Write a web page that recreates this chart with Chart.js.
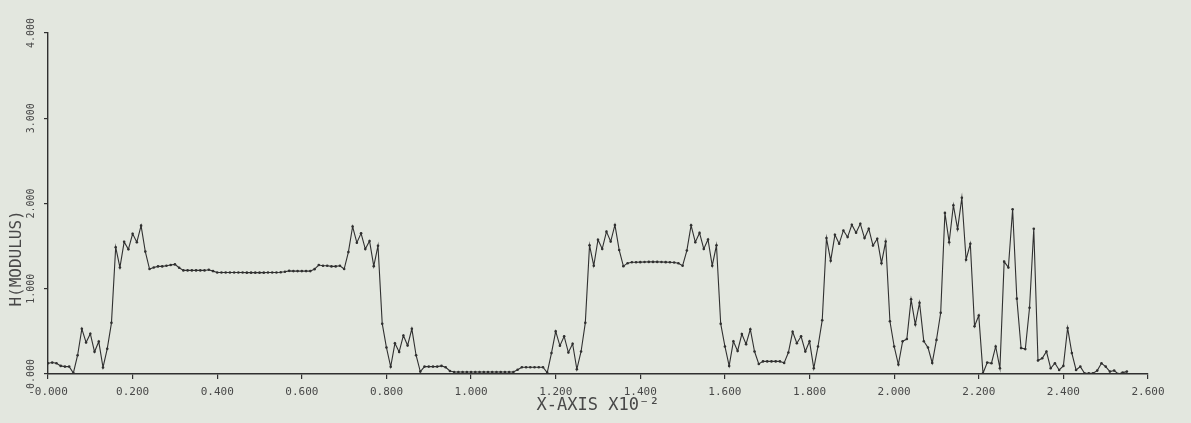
<!DOCTYPE html>
<html>
<head>
<meta charset="utf-8">
<script src="https://cdn.jsdelivr.net/npm/chart.js"></script>
<style>
  html, body { margin: 0; padding: 0; background: #e3e7df; }
  #caixa { width: 1191px; height: 423px; position: relative; }
</style>
</head>
<body>
<div id="caixa"><canvas id="grafico"></canvas></div>
<script>
const modulusA = [
  0.126, 0.134, 0.126, 0.095, 0.087, 0.087, 0.012, 0.220,
  0.530, 0.370, 0.473, 0.260, 0.380, 0.077, 0.295, 0.600,
  1.487, 1.250, 1.550, 1.463, 1.645, 1.546, 1.740, 1.436,
  1.231, 1.250, 1.262, 1.262, 1.270, 1.278, 1.286, 1.247,
  1.215, 1.215, 1.215, 1.215, 1.215, 1.215, 1.223, 1.207,
  1.191, 1.191, 1.191, 1.191, 1.191, 1.191, 1.191, 1.189,
  1.189, 1.189, 1.189, 1.189, 1.191, 1.191, 1.191, 1.193,
  1.200, 1.210, 1.207, 1.207, 1.207, 1.207, 1.207, 1.230
];
const modulusB = [
  1.278, 1.270, 1.270, 1.262, 1.262, 1.270, 1.231, 1.430,
  1.730, 1.540, 1.650, 1.465, 1.560, 1.265, 1.505, 0.590,
  0.310, 0.085, 0.360, 0.258, 0.452, 0.335, 0.530, 0.220,
  0.028, 0.087, 0.087, 0.087, 0.087, 0.095, 0.079, 0.035,
  0.024, 0.024, 0.024, 0.024, 0.024, 0.024, 0.024, 0.024,
  0.024, 0.024, 0.024, 0.024, 0.024, 0.024, 0.024, 0.050,
  0.079, 0.079, 0.079, 0.079, 0.079, 0.079, 0.016, 0.245,
  0.500, 0.331, 0.442, 0.252, 0.355, 0.055, 0.264, 0.600
];
const modulusC = [
  1.510, 1.270, 1.575, 1.467, 1.670, 1.554, 1.748, 1.455,
  1.265, 1.300, 1.310, 1.310, 1.312, 1.314, 1.315, 1.315,
  1.315, 1.314, 1.312, 1.310, 1.308, 1.300, 1.270, 1.448,
  1.744, 1.546, 1.655, 1.467, 1.578, 1.270, 1.510, 0.590,
  0.323, 0.095, 0.383, 0.270, 0.468, 0.350, 0.525, 0.264,
  0.118, 0.148, 0.148, 0.148, 0.148, 0.148, 0.130, 0.252,
  0.495, 0.360, 0.442, 0.264, 0.383, 0.067, 0.323, 0.631,
  1.594, 1.329, 1.633, 1.527, 1.684, 1.606, 1.751, 1.657
];
const modulusD = [
  1.763, 1.594, 1.704, 1.507, 1.586, 1.300, 1.554, 0.619,
  0.323, 0.110, 0.383, 0.410, 0.876, 0.580, 0.836, 0.385,
  0.310, 0.130, 0.400, 0.718, 1.890, 1.546, 1.980, 1.700,
  2.067, 1.341, 1.527, 0.560, 0.686, 0.008, 0.134, 0.126,
  0.323, 0.067, 1.318, 1.250, 1.933, 0.884, 0.304, 0.292,
  0.777, 1.704, 0.158, 0.185, 0.264, 0.067, 0.126, 0.047,
  0.095, 0.540, 0.245, 0.047, 0.087, 0.008, 0.008, 0.008,
  0.040, 0.126, 0.087, 0.028, 0.040, 0.000, 0.016, 0.028
];
const passoX = 0.01;

const xTickValues = [0, 0.2, 0.4, 0.6, 0.8, 1.0, 1.2, 1.4, 1.6, 1.8, 2.0, 2.2, 2.4, 2.6];
const xTickLabels = ['-0.000', '0.200', '0.400', '0.600', '0.800', '1.000', '1.200',
  '1.400', '1.600', '1.800', '2.000', '2.200', '2.400', '2.600'];
const yTickValues = [0, 1, 2, 3, 4];
const yTickLabels = ['0.000', '1.000', '2.000', '3.000', '4.000'];

const tinta = '#303030';
const textoCor = '#484848';
const fonte = "'DejaVu Sans Mono', 'Liberation Mono', monospace";

const modulus = modulusA.concat(modulusB, modulusC, modulusD);
const pontos = modulus.map((v, i) => ({ x: i * passoX, y: v }));

new Chart(document.getElementById('grafico'), {
  type: 'line',
  data: {
    datasets: [{
      data: pontos,
      borderColor: tinta,
      borderWidth: 1.1,
      pointRadius: 1.3,
      pointBackgroundColor: tinta,
      pointBorderWidth: 0,
      tension: 0,
      fill: false
    }]
  },
  options: {
    responsive: true,
    maintainAspectRatio: false,
    animation: false,
    layout: { padding: { left: 0, right: 43, top: 33, bottom: 0 } },
    plugins: {
      legend: { display: false },
      tooltip: { enabled: false }
    },
    scales: {
      x: {
        type: 'linear',
        min: 0,
        max: 2.6,
        afterBuildTicks: s => { s.ticks = xTickValues.map(v => ({ value: v })); },
        afterFit: s => { s.height = 49; },
        grid: { drawOnChartArea: false, drawTicks: true, tickLength: 5, tickColor: tinta, lineWidth: 1.2 },
        border: { display: true, color: tinta, width: 1.4 },
        ticks: {
          autoSkip: false, minRotation: 0, maxRotation: 0, padding: 7,
          color: textoCor, font: { family: fonte, size: 11 },
          callback: (v, i) => xTickLabels[i]
        },
        title: {
          display: true, text: 'X-AXIS X10⁻²', color: textoCor,
          font: { family: fonte, size: 17 }, padding: { top: 0, bottom: 7 }
        }
      },
      y: {
        type: 'linear',
        min: 0,
        max: 4,
        afterBuildTicks: s => { s.ticks = yTickValues.map(v => ({ value: v })); },
        afterFit: s => { s.width = 48; },
        grid: { drawOnChartArea: false, drawTicks: true, tickLength: 4, tickColor: tinta, lineWidth: 1.2 },
        border: { display: true, color: tinta, width: 1.4 },
        ticks: {
          minRotation: 90, maxRotation: 90, crossAlign: 'center', padding: -2,
          color: textoCor, font: { family: fonte, size: 10 },
          callback: (v, i) => yTickLabels[i]
        },
        title: {
          display: true, text: '       H(MODULUS)', align: 'start', color: textoCor,
          font: { family: fonte, size: 16 }, padding: { top: 7, bottom: 0 }
        }
      }
    }
  }
});
</script>
</body>
</html>
